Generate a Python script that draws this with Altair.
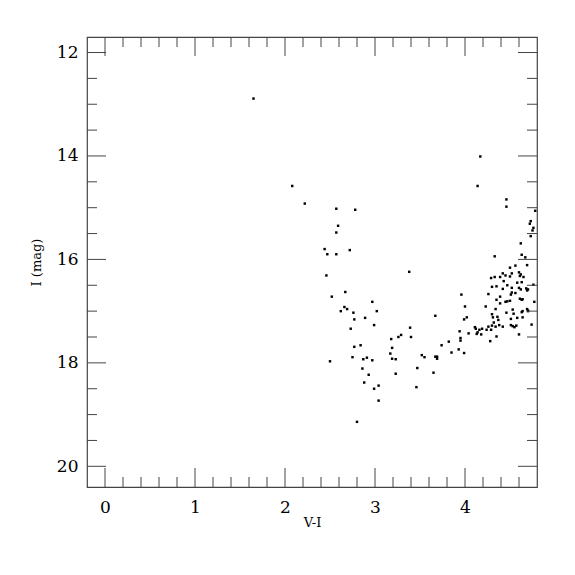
import altair as alt
import pandas as pd

vi = [1.65, 2.08, 2.22, 2.57, 2.78, 2.59, 2.57, 2.44, 2.72, 2.47, 2.57, 3.38, 2.46,
      2.52, 2.67, 2.97, 2.66, 2.69, 2.62, 3.02, 2.76, 2.77, 2.89, 2.99, 2.73, 3.39,
      3.40, 3.18, 3.26, 3.29, 3.19, 3.17, 3.19, 3.23, 2.77, 2.84, 2.75, 2.87, 2.91,
      2.97, 2.50, 3.52, 3.55, 2.86, 2.93, 3.23, 3.47, 2.88, 3.04, 2.99, 3.46, 3.04,
      2.80, 3.67, 3.67, 3.69, 3.69, 3.65, 4.02, 3.99, 4.30, 4.31, 4.36, 4.37, 4.46,
      4.54, 4.63, 4.64, 4.70, 4.58, 4.64, 4.51, 4.32, 4.30, 4.38, 4.34, 4.42, 4.26,
      4.51, 4.53, 4.55, 4.57, 4.74, 4.11, 4.12, 4.16, 4.19, 4.24, 4.29, 4.04, 4.14,
      4.13, 4.18, 4.60, 3.94, 3.95, 3.95, 4.35, 4.28, 3.82, 3.74, 3.93, 3.85, 3.99,
      4.62, 4.33, 4.63, 4.67, 4.69, 4.56, 4.50, 4.42, 4.45, 4.52, 4.50, 4.60, 4.62,
      4.61, 4.65, 4.29, 4.33, 4.39, 4.43, 4.58, 4.63, 4.47, 4.30, 4.35, 4.42, 4.52,
      4.60, 4.62, 4.68, 4.70, 4.69, 4.76, 4.26, 3.96, 4.39, 4.52, 4.51, 4.56, 4.47,
      4.50, 4.61, 4.63, 4.64, 4.35, 4.77, 4.00, 4.23, 4.39, 4.45, 4.34, 4.69, 4.70,
      4.53, 4.17, 4.14, 4.46, 4.46, 4.78, 4.73, 4.72, 4.76, 4.75, 4.73]
imag = [12.89, 14.58, 14.92, 15.02, 15.04, 15.35, 15.48, 15.80, 15.82, 15.90, 15.90, 16.24, 16.31,
        16.72, 16.63, 16.82, 16.92, 16.96, 17.00, 17.00, 17.03, 17.16, 17.13, 17.27, 17.34, 17.32,
        17.50, 17.54, 17.50, 17.46, 17.71, 17.82, 17.92, 17.93, 17.69, 17.66, 17.89, 17.93, 17.90,
        17.95, 17.97, 17.85, 17.89, 18.11, 18.23, 18.21, 18.10, 18.38, 18.44, 18.50, 18.47, 18.73,
        19.14, 17.09, 17.88, 17.88, 17.92, 18.19, 17.12, 17.16, 17.06, 17.12, 17.11, 17.17, 17.03,
        17.05, 17.02, 17.00, 17.00, 17.13, 17.12, 17.15, 17.22, 17.28, 17.27, 17.30, 17.30, 17.30,
        17.27, 17.29, 17.31, 17.28, 17.26, 17.31, 17.34, 17.36, 17.34, 17.36, 17.36, 17.43, 17.41,
        17.44, 17.45, 17.45, 17.39, 17.52, 17.57, 17.49, 17.58, 17.59, 17.66, 17.74, 17.80, 17.81,
        15.69, 15.94, 15.91, 15.96, 16.11, 16.12, 16.16, 16.27, 16.31, 16.27, 16.33, 16.25, 16.29,
        16.32, 16.34, 16.36, 16.34, 16.34, 16.42, 16.45, 16.44, 16.50, 16.53, 16.52, 16.57, 16.55,
        16.55, 16.58, 16.56, 16.58, 16.60, 16.49, 16.67, 16.68, 16.72, 16.64, 16.68, 16.65, 16.81,
        16.80, 16.76, 16.78, 16.77, 16.78, 16.82, 16.91, 16.91, 16.85, 16.82, 16.96, 16.96, 16.99,
        16.97, 14.01, 14.58, 14.84, 14.98, 15.06, 15.26, 15.31, 15.39, 15.44, 15.55]

x_major = [0, 1, 2, 3, 4]
x_minor = [0.2, 0.4, 0.6, 0.8, 1.2, 1.4, 1.6, 1.8, 2.2, 2.4, 2.6, 2.8,
           3.2, 3.4, 3.6, 3.8, 4.2, 4.4, 4.6]
y_major = [12, 14, 16, 18, 20]
y_minor = [12.5, 13, 13.5, 14.5, 15, 15.5, 16.5, 17, 17.5, 18.5, 19, 19.5]

W = 450
H = 450
FONT = "DejaVu Serif"
TICK = "#444444"

xs = alt.Scale(domain=[-0.2, 4.8], nice=False, zero=False)
ys = alt.Scale(domain=[11.7, 20.4], reverse=True, nice=False, zero=False)

x_axis = alt.Axis(values=x_major, ticks=False, domain=False, grid=False,
                  labelFont=FONT, labelFontSize=17, labelPadding=12,
                  labelColor="black", titleFont=FONT, titleFontSize=13,
                  titleFontWeight="normal", titleColor="black", titlePadding=1)
y_axis = alt.Axis(values=y_major, ticks=False, domain=False, grid=False,
                  labelFont=FONT, labelFontSize=17, labelPadding=9,
                  labelColor="black", titleFont=FONT, titleFontSize=13,
                  titleFontWeight="normal", titleColor="black", titlePadding=13)

def X(field):
    return alt.X(field, type="quantitative", scale=xs, axis=x_axis, title="V-I")

def Y(field):
    return alt.Y(field, type="quantitative", scale=ys, axis=y_axis, title="I (mag)")

df = pd.DataFrame({"vi": vi, "imag": imag})

points = alt.Chart(df).mark_square(size=6, color="black", opacity=1).encode(
    x=X("vi"), y=Y("imag"))

def xticks(vals, length):
    d = pd.DataFrame({"v": vals})
    base = alt.Chart(d).mark_rule(color=TICK, strokeWidth=1)
    bottom = base.encode(x=X("v"), y=alt.value(H), y2=alt.value(H - length))
    top = base.encode(x=X("v"), y=alt.value(0), y2=alt.value(length))
    return [bottom, top]

def yticks(vals, length):
    d = pd.DataFrame({"v": vals})
    base = alt.Chart(d).mark_rule(color=TICK, strokeWidth=1)
    left = base.encode(y=Y("v"), x=alt.value(0), x2=alt.value(length))
    right = base.encode(y=Y("v"), x=alt.value(W), x2=alt.value(W - length))
    return [left, right]

layers = ([points] + xticks(x_major, 19) + xticks(x_minor, 10) +
          yticks(y_major, 19) + yticks(y_minor, 10))

chart = alt.layer(*layers).properties(
    width=W, height=H,
    background="white",
    autosize=alt.AutoSizeParams(type="none"),
    padding={"left": 79, "top": 29, "right": 30, "bottom": 50},
).configure_view(stroke=TICK, strokeWidth=1.2)

chart.save("out.html", embed_options={"renderer": "svg", "actions": False})
